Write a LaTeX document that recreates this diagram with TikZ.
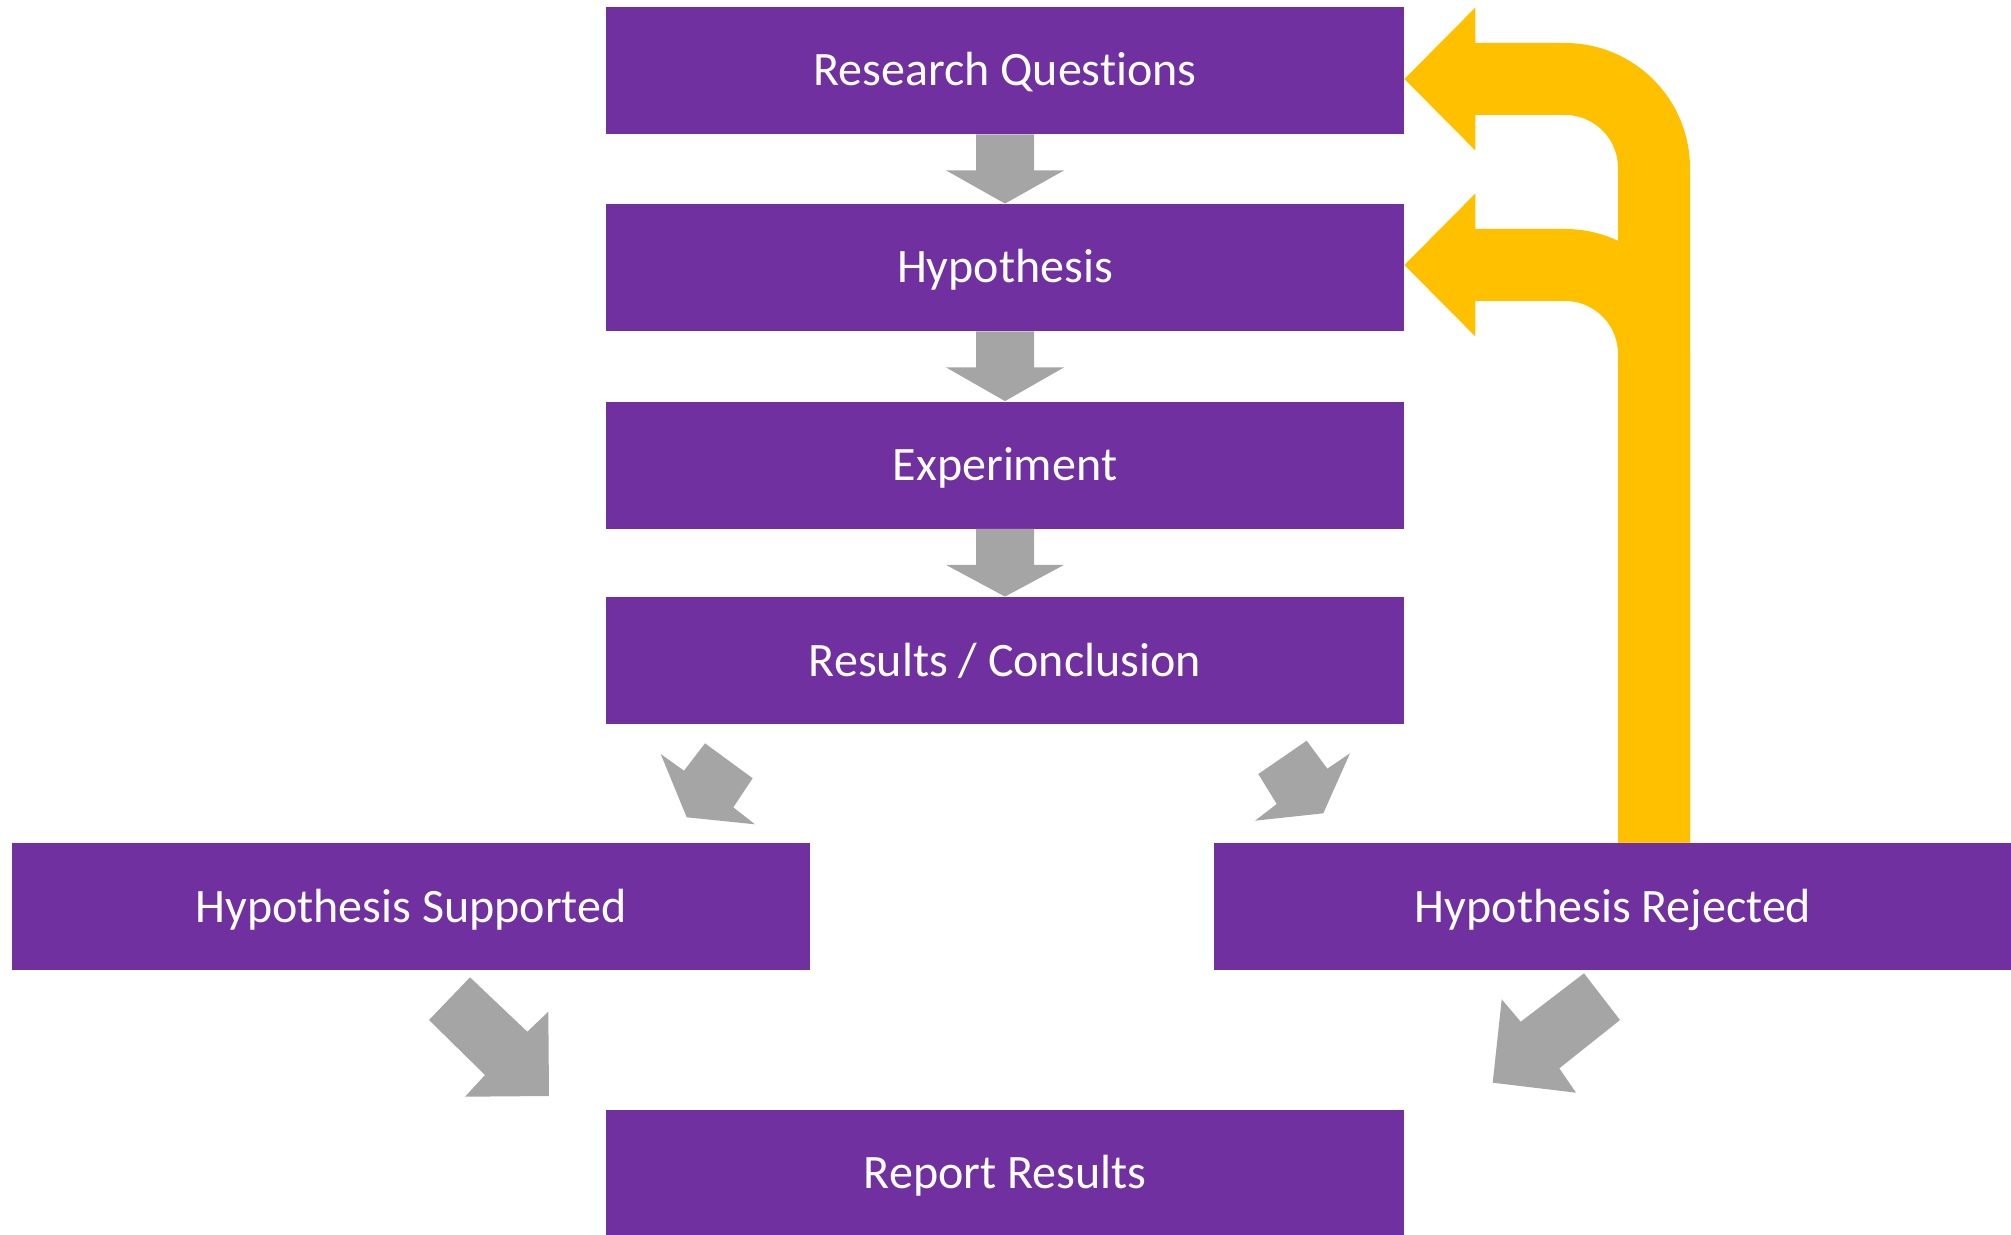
\documentclass[tikz,border=0pt]{standalone}
\usepackage{fontspec}
\setmainfont[Ligatures=NoCommon]{Carlito}
\usetikzlibrary{calc}
\definecolor{boxpurple}{HTML}{7030A0}
\definecolor{arrowgrey}{HTML}{A5A5A5}
\definecolor{loopgold}{HTML}{FFC000}
\begin{document}
\begin{tikzpicture}[x=0.5pt, y=-0.5pt,
  stepbox/.style={fill=boxpurple, text=white, inner sep=0pt, minimum width=399pt, minimum height=63.5pt, text height=15.5pt, text depth=0pt, font=\fontsize{24}{29}\selectfont},
  greyfill/.style={fill=arrowgrey},
  loopline/.style={draw=loopgold, line width=36pt, rounded corners=44.5pt},
  loopfill/.style={fill=loopgold}]
  \useasboundingbox (0,0) rectangle (2011,1235);
  \node[stepbox] (rq) at (1005,70.5) {Research Questions};
  \node[stepbox] (hyp) at (1005,267.5) {Hypothesis};
  \node[stepbox] (exp) at (1005,465) {Experiment};
  \node[stepbox] (rc) at (1005,660.5) {Results / Conclusion};
  \node[stepbox] (hs) at (411,906.5) {Hypothesis Supported};
  \node[stepbox] (hr) at (1613,906.5) {Hypothesis Rejected};
  \node[stepbox] (rr) at (1005,1173) {Report Results};
  % straight arrows down the column
  \foreach \a/\b in {rq/hyp, hyp/exp, exp/rc}
    \fill[greyfill] ($(\a.south)+(-29,0)$) -- ($(\a.south)+(29,0)$) -- ($(\a.south)+(29,36)$) -- ($(\a.south)+(59,36)$) -- (\b.north) -- ($(\a.south)+(-59,36)$) -- ($(\a.south)+(-29,36)$) -- cycle;
  % slanted arrows
  \fill[greyfill] (705,743.3) -- (752.7,778.3) -- (733.3,807.3) -- (755,824.3) -- (686.7,817.3) -- (660.7,754) -- (684,770.7) -- cycle;
  \fill[greyfill] (1306.7,740.7) -- (1327.3,768.7) -- (1350,753.3) -- (1323.3,813.3) -- (1255,820.7) -- (1276.7,804) -- (1258.3,774) -- cycle;
  \fill[greyfill] (470,977.3) -- (527.3,1031.7) -- (548.3,1011.7) -- (549,1096) -- (465,1096.7) -- (485,1075) -- (429,1020) -- cycle;
  \fill[greyfill] (1584,973.3) -- (1620,1020) -- (1559.3,1068.3) -- (1576,1092.7) -- (1492.7,1082.7) -- (1501.7,999.3) -- (1520.7,1021.7) -- cycle;
  % loop back from rejected
  \draw[loopline] ($(hr.north)+(41,0)$) |- ($(rq.east)+(70,8.5)$);
  \fill[loopfill] ($(rq.east)+(0,8.5)$) -- ++(71,-71.5) -- ++(0,143) -- cycle;
  \draw[loopline] ($(hr.north)+(41,0)$) |- ($(hyp.east)+(70,-2.5)$);
  \fill[loopfill] ($(hyp.east)+(0,-2.5)$) -- ++(71,-71.5) -- ++(0,143) -- cycle;
\end{tikzpicture}
\end{document}
